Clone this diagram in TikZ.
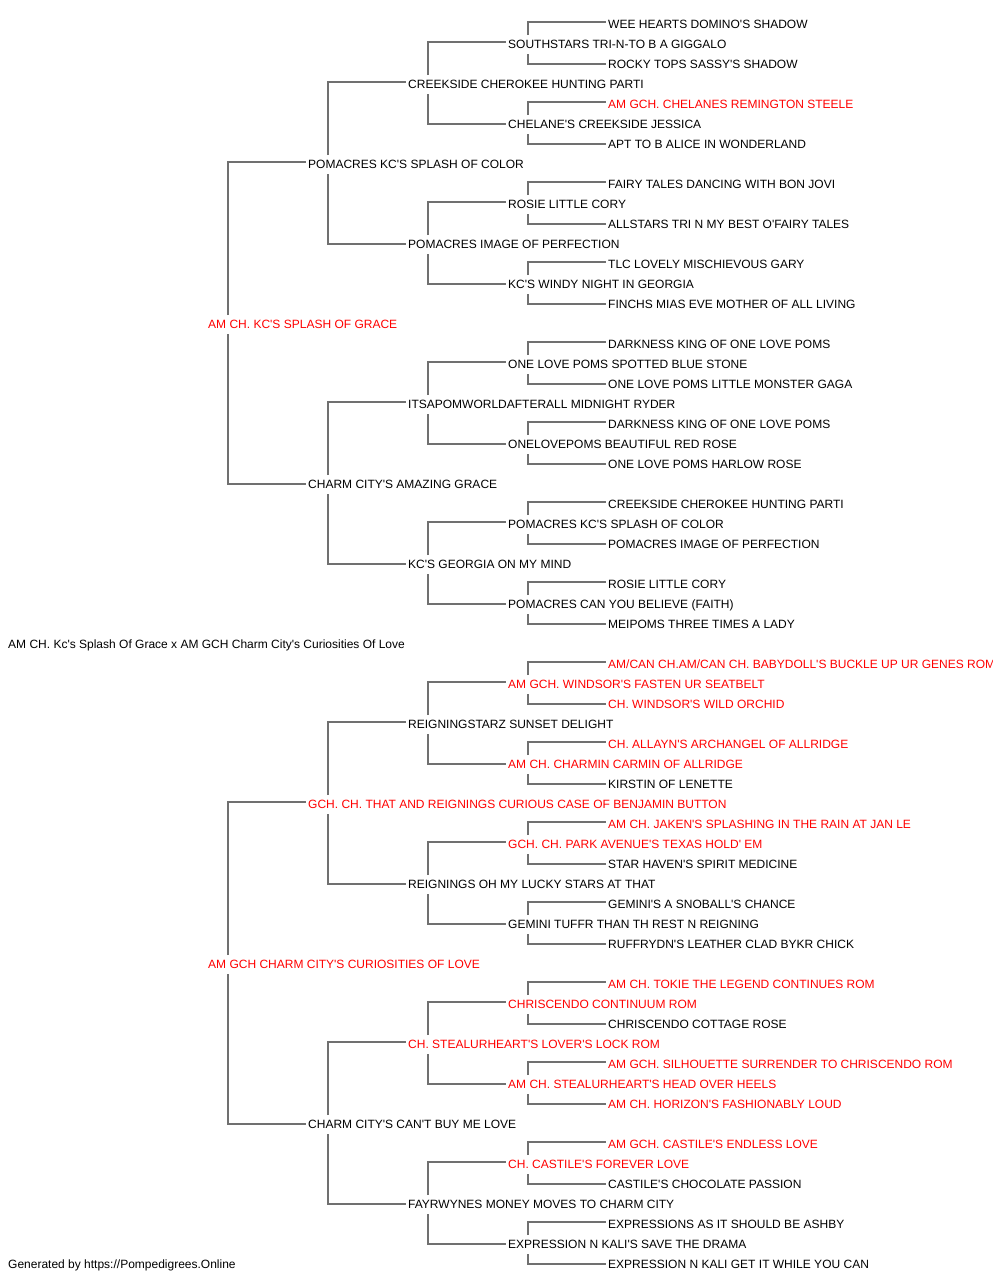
\documentclass[tikz,border=0pt]{standalone}
\usepackage{fontspec}
\setmainfont{Liberation Sans}[Ligatures=TeXOff]
\definecolor{lc}{HTML}{707070}
\definecolor{rc}{HTML}{FF0000}
\newcommand\pedn[5]{\node[nm,#4] (#1) at ({208+100*#2},{23.7+20*#3}) {#5};}
\begin{document}
\begin{tikzpicture}[x=1pt,y=-1pt,
  nm/.style={anchor=west,inner sep=0pt,text height=8.6pt,text depth=0pt,font=\fontsize{12}{14}\selectfont},
  rd/.style={text=rc}, bk/.style={text=black},
  conn/.style={draw=lc,line width=1.2pt}]
\useasboundingbox (0,0) rectangle (1000,1280);
\begin{scope}
\clip (0,0) rectangle (992,1280);
% ---- first dog (rows 0..30)
\pedn{a0}{4}{0}{bk}{WEE HEARTS DOMINO'S SHADOW}
\pedn{a1}{3}{1}{bk}{SOUTHSTARS TRI-N-TO B A GIGGALO}
\pedn{a2}{4}{2}{bk}{ROCKY TOPS SASSY'S SHADOW}
\pedn{a3}{2}{3}{bk}{CREEKSIDE CHEROKEE HUNTING PARTI}
\pedn{a4}{4}{4}{rd}{AM GCH. CHELANES REMINGTON STEELE}
\pedn{a5}{3}{5}{bk}{CHELANE'S CREEKSIDE JESSICA}
\pedn{a6}{4}{6}{bk}{APT TO B ALICE IN WONDERLAND}
\pedn{a7}{1}{7}{bk}{POMACRES KC'S SPLASH OF COLOR}
\pedn{a8}{4}{8}{bk}{FAIRY TALES DANCING WITH BON JOVI}
\pedn{a9}{3}{9}{bk}{ROSIE LITTLE CORY}
\pedn{a10}{4}{10}{bk}{ALLSTARS TRI N MY BEST O'FAIRY TALES}
\pedn{a11}{2}{11}{bk}{POMACRES IMAGE OF PERFECTION}
\pedn{a12}{4}{12}{bk}{TLC LOVELY MISCHIEVOUS GARY}
\pedn{a13}{3}{13}{bk}{KC'S WINDY NIGHT IN GEORGIA}
\pedn{a14}{4}{14}{bk}{FINCHS MIAS EVE MOTHER OF ALL LIVING}
\pedn{a15}{0}{15}{rd}{AM CH. KC'S SPLASH OF GRACE}
\pedn{a16}{4}{16}{bk}{DARKNESS KING OF ONE LOVE POMS}
\pedn{a17}{3}{17}{bk}{ONE LOVE POMS SPOTTED BLUE STONE}
\pedn{a18}{4}{18}{bk}{ONE LOVE POMS LITTLE MONSTER GAGA}
\pedn{a19}{2}{19}{bk}{ITSAPOMWORLDAFTERALL MIDNIGHT RYDER}
\pedn{a20}{4}{20}{bk}{DARKNESS KING OF ONE LOVE POMS}
\pedn{a21}{3}{21}{bk}{ONELOVEPOMS BEAUTIFUL RED ROSE}
\pedn{a22}{4}{22}{bk}{ONE LOVE POMS HARLOW ROSE}
\pedn{a23}{1}{23}{bk}{CHARM CITY'S AMAZING GRACE}
\pedn{a24}{4}{24}{bk}{CREEKSIDE CHEROKEE HUNTING PARTI}
\pedn{a25}{3}{25}{bk}{POMACRES KC'S SPLASH OF COLOR}
\pedn{a26}{4}{26}{bk}{POMACRES IMAGE OF PERFECTION}
\pedn{a27}{2}{27}{bk}{KC'S GEORGIA ON MY MIND}
\pedn{a28}{4}{28}{bk}{ROSIE LITTLE CORY}
\pedn{a29}{3}{29}{bk}{POMACRES CAN YOU BELIEVE (FAITH)}
\pedn{a30}{4}{30}{bk}{MEIPOMS THREE TIMES A LADY}
% ---- title
\node[nm] (title) at (8,643.7) {AM CH. Kc's Splash Of Grace x AM GCH Charm City's Curiosities Of Love};
% ---- second dog (rows 32..62)
\pedn{b0}{4}{32}{rd}{AM/CAN CH.AM/CAN CH. BABYDOLL'S BUCKLE UP UR GENES ROM}
\pedn{b1}{3}{33}{rd}{AM GCH. WINDSOR'S FASTEN UR SEATBELT}
\pedn{b2}{4}{34}{rd}{CH. WINDSOR'S WILD ORCHID}
\pedn{b3}{2}{35}{bk}{REIGNINGSTARZ SUNSET DELIGHT}
\pedn{b4}{4}{36}{rd}{CH. ALLAYN'S ARCHANGEL OF ALLRIDGE}
\pedn{b5}{3}{37}{rd}{AM CH. CHARMIN CARMIN OF ALLRIDGE}
\pedn{b6}{4}{38}{bk}{KIRSTIN OF LENETTE}
\pedn{b7}{1}{39}{rd}{GCH. CH. THAT AND REIGNINGS CURIOUS CASE OF BENJAMIN BUTTON}
\pedn{b8}{4}{40}{rd}{AM CH. JAKEN'S SPLASHING IN THE RAIN AT JAN LE}
\pedn{b9}{3}{41}{rd}{GCH. CH. PARK AVENUE'S TEXAS HOLD' EM}
\pedn{b10}{4}{42}{bk}{STAR HAVEN'S SPIRIT MEDICINE}
\pedn{b11}{2}{43}{bk}{REIGNINGS OH MY LUCKY STARS AT THAT}
\pedn{b12}{4}{44}{bk}{GEMINI'S A SNOBALL'S CHANCE}
\pedn{b13}{3}{45}{bk}{GEMINI TUFFR THAN TH REST N REIGNING}
\pedn{b14}{4}{46}{bk}{RUFFRYDN'S LEATHER CLAD BYKR CHICK}
\pedn{b15}{0}{47}{rd}{AM GCH CHARM CITY'S CURIOSITIES OF LOVE}
\pedn{b16}{4}{48}{rd}{AM CH. TOKIE THE LEGEND CONTINUES ROM}
\pedn{b17}{3}{49}{rd}{CHRISCENDO CONTINUUM ROM}
\pedn{b18}{4}{50}{bk}{CHRISCENDO COTTAGE ROSE}
\pedn{b19}{2}{51}{rd}{CH. STEALURHEART'S LOVER'S LOCK ROM}
\pedn{b20}{4}{52}{rd}{AM GCH. SILHOUETTE SURRENDER TO CHRISCENDO ROM}
\pedn{b21}{3}{53}{rd}{AM CH. STEALURHEART'S HEAD OVER HEELS}
\pedn{b22}{4}{54}{rd}{AM CH. HORIZON'S FASHIONABLY LOUD}
\pedn{b23}{1}{55}{bk}{CHARM CITY'S CAN'T BUY ME LOVE}
\pedn{b24}{4}{56}{rd}{AM GCH. CASTILE'S ENDLESS LOVE}
\pedn{b25}{3}{57}{rd}{CH. CASTILE'S FOREVER LOVE}
\pedn{b26}{4}{58}{bk}{CASTILE'S CHOCOLATE PASSION}
\pedn{b27}{2}{59}{bk}{FAYRWYNES MONEY MOVES TO CHARM CITY}
\pedn{b28}{4}{60}{bk}{EXPRESSIONS AS IT SHOULD BE ASHBY}
\pedn{b29}{3}{61}{bk}{EXPRESSION N KALI'S SAVE THE DRAMA}
\pedn{b30}{4}{62}{bk}{EXPRESSION N KALI GET IT WHILE YOU CAN}
% ---- footer
\node[nm] (footer) at (8,1263.7) {Generated by https://Pompedigrees.Online};
% ---- connectors
\foreach \b in {a,b}{
  \foreach \j/\d in {1/1,5/1,9/1,13/1,17/1,21/1,25/1,29/1,3/2,11/2,19/2,27/2,7/4,23/4,15/8}{
    \pgfmathtruncatemacro\s{\j-\d}
    \pgfmathtruncatemacro\m{\j+\d}
    \draw[conn] ([xshift=20pt,yshift=4pt]\b\j.north west) |- ([xshift=-2pt,yshift=1.7pt]\b\s.west);
    \draw[conn] ([xshift=20pt,yshift=-6pt]\b\j.south west) |- ([xshift=-2pt,yshift=-0.3pt]\b\m.west);
  }
}
\end{scope}
\end{tikzpicture}
\end{document}
